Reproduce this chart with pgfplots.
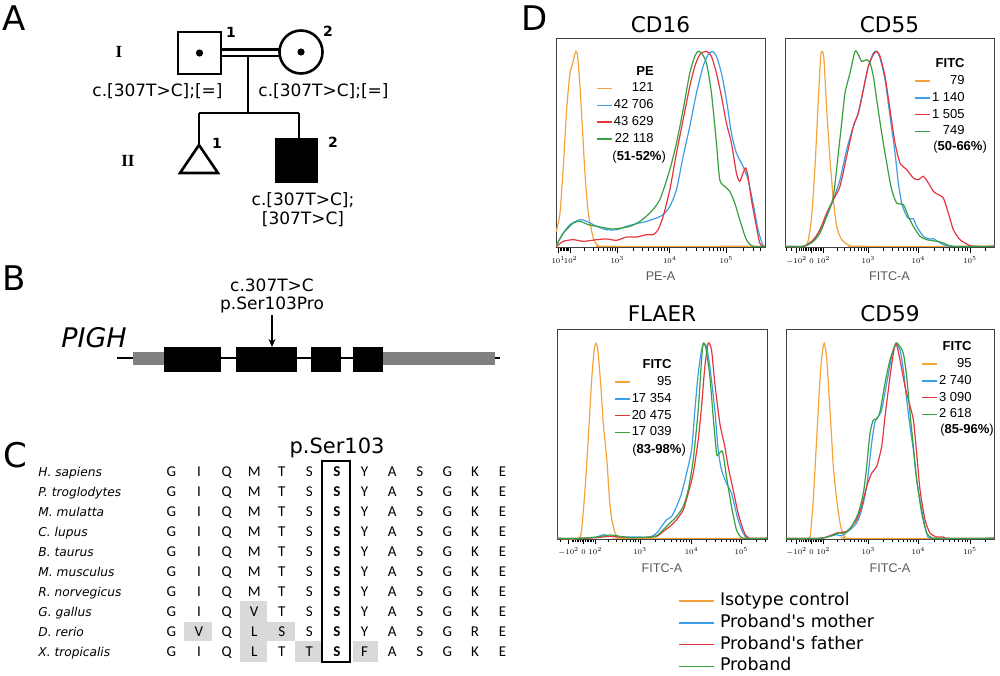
\documentclass[border=0pt]{standalone}
\usepackage{pgfplots}
\pgfplotsset{compat=1.18}
\usetikzlibrary{arrows.meta}
\usepackage{fontspec}
\setmainfont{DejaVu Sans}
\newfontfamily\dvs{DejaVu Sans}
\newfontfamily\arialf{Liberation Sans}
\newfontfamily\calf{Carlito}
\newfontfamily\serf{Liberation Serif}
\definecolor{corange}{HTML}{F5A23C}
\definecolor{cblue}{HTML}{3C9DE8}
\definecolor{cred}{HTML}{E5353F}
\definecolor{cgreen}{HTML}{38A03E}
\definecolor{hl}{HTML}{D9D9D9}
\definecolor{utr}{HTML}{808080}
\newcommand\ac[1]{\makebox[13.8pt]{#1}}
\tikzset{pct/.style={anchor=base west, font=\arialf\fontsize{6.5}{7}\selectfont, inner sep=0pt}}
\pgfplotsset{
 flow/.style={scale only axis, clip=true,
   axis line style={draw=black!75, line width=0.5pt},
   ytick=\empty, xtick pos=bottom, tick align=outside,
   major tick length=2.5pt, minor tick length=1.5pt,
   every tick/.style={black, line width=0.4pt},
   xticklabel style={font=\fontsize{6}{7}\selectfont, scale=0.6, anchor=base, yshift=-9pt},
   title style={font=\fontsize{10.8}{12}\selectfont, at={(0.5,1)}, anchor=base, yshift=-3pt},
   xlabel style={font=\arialf\fontsize{6.3}{7}\selectfont, text=black!65, at={(0.5,0)}, anchor=base, yshift=-16.5pt},
   legend style={draw=none, fill=none, font=\arialf\fontsize{6.5}{7}\selectfont, inner sep=0pt, row sep=1.4pt, anchor=north east, nodes={inner sep=0.5pt, text height=4.7pt, text depth=1.3pt}},
   legend cell align=right,
   legend image code/.code={\draw[#1, line width=0.7pt] (0pt,0pt) -- (7.5pt,0pt);},
   every axis plot/.append style={line width=0.6pt, no markers, smooth, tension=0.4},
 },
}
\begin{document}
\begin{tikzpicture}
\path[use as bounding box] (0pt,0pt) rectangle (500pt,337.5pt);
% ---------------- background axis for panels A, B, C ----------------
\begin{axis}[at={(0pt,0pt)}, anchor=south west, scale only axis, width=500pt, height=337.5pt,
  xmin=0, xmax=1000, ymin=0, ymax=675, y dir=reverse, hide axis, clip=false]
% Panel A
\node[font=\fontsize{17}{20}\selectfont, anchor=base] at (14,30) {A};
\draw[line width=1.3pt] (178,32) rectangle (221,74);
\fill (199.5,53) circle[radius=1.8pt];
\draw[line width=1.3pt] (301,52) circle[radius=10.75pt];
\fill (301,52) circle[radius=1.8pt];
\draw[line width=1.2pt] (221,49.5) -- (280,49.5) (221,56) -- (280,56);
\draw[line width=1.3pt] (248,56) -- (248,113) (199,113) -- (299,113) (199,113) -- (199,145) (299,113) -- (299,138);
\draw[line width=1.3pt, line join=miter] (199,145) -- (180,173) -- (218,173) -- cycle;
\fill (275,138) rectangle (318,183);
\node[font=\bfseries\fontsize{7}{8}\selectfont, anchor=base] at (231,37) {1};
\node[font=\bfseries\fontsize{7}{8}\selectfont, anchor=base] at (328,36) {2};
\node[font=\bfseries\fontsize{7}{8}\selectfont, anchor=base] at (217,148) {1};
\node[font=\bfseries\fontsize{7}{8}\selectfont, anchor=base] at (333,147) {2};
\node[font=\serf\bfseries\fontsize{8.5}{10}\selectfont, anchor=base] at (119,57) {I};
\node[font=\serf\bfseries\fontsize{8.5}{10}\selectfont, anchor=base] at (128,166) {II};
\node[font=\fontsize{8.5}{10}\selectfont, anchor=base] at (157.5,96) {c.[307T>C];[=]};
\node[font=\fontsize{8.5}{10}\selectfont, anchor=base west, inner sep=0pt] at (258,96) {c.[307T>C];[=]};
\node[font=\fontsize{8.5}{10}\selectfont, anchor=base] at (303,205) {c.[307T>C];};
\node[font=\fontsize{8.5}{10}\selectfont, anchor=base] at (303,224) {[307T>C]};
% Panel B
\node[font=\fontsize{17}{20}\selectfont, anchor=base] at (14,290) {B};
\node[font=\fontsize{8.5}{10}\selectfont, anchor=base] at (272,291) {c.307T>C};
\node[font=\fontsize{8.5}{10}\selectfont, anchor=base] at (272,309) {p.Ser103Pro};
\draw[line width=0.8pt, -{Stealth[length=4pt,width=3.5pt]}] (272,315) -- (272,347);
\node[font=\itshape\fontsize{13.5}{16}\selectfont, anchor=base] at (94,347) {PIGH};
\draw[line width=0.8pt] (117,358) -- (500,358);
\fill[utr] (133,352) rectangle (164,365);
\fill[utr] (383,352) rectangle (495,365);
\fill (164,347) rectangle (221,372);
\fill (236,347) rectangle (297,372);
\fill (311,347) rectangle (341,372);
\fill (353,347) rectangle (383,372);
% Panel C
\node[font=\fontsize{17}{20}\selectfont, anchor=base] at (15,467) {C};
\node[font=\fontsize{10.5}{12}\selectfont, anchor=base] at (337,453) {p.Ser103};
\fill[hl] (240,601) rectangle (267,622);
\fill[hl] (184,622) rectangle (212,641);
\fill[hl] (240,622) rectangle (295,641);
\fill[hl] (240,641) rectangle (267,662);
\fill[hl] (295,641) rectangle (322,662);
\fill[hl] (353,641) rectangle (378,662);
\draw[line width=1.3pt] (322,461) rectangle (350,662);
\node[anchor=base west, inner sep=0pt, font=\itshape\fontsize{6.1}{7}\selectfont] at (38,476) {H. sapiens};
\node[anchor=base west, inner sep=0pt, font=\itshape\fontsize{6.1}{7}\selectfont] at (38,496) {P. troglodytes};
\node[anchor=base west, inner sep=0pt, font=\itshape\fontsize{6.1}{7}\selectfont] at (38,516) {M. mulatta};
\node[anchor=base west, inner sep=0pt, font=\itshape\fontsize{6.1}{7}\selectfont] at (38,536) {C. lupus};
\node[anchor=base west, inner sep=0pt, font=\itshape\fontsize{6.1}{7}\selectfont] at (38,556) {B. taurus};
\node[anchor=base west, inner sep=0pt, font=\itshape\fontsize{6.1}{7}\selectfont] at (38,576) {M. musculus};
\node[anchor=base west, inner sep=0pt, font=\itshape\fontsize{6.1}{7}\selectfont] at (38,596) {R. norvegicus};
\node[anchor=base west, inner sep=0pt, font=\itshape\fontsize{6.1}{7}\selectfont] at (38,616) {G. gallus};
\node[anchor=base west, inner sep=0pt, font=\itshape\fontsize{6.1}{7}\selectfont] at (38,636) {D. rerio};
\node[anchor=base west, inner sep=0pt, font=\itshape\fontsize{6.1}{7}\selectfont] at (38,656) {X. tropicalis};
\node[anchor=base west, inner sep=0pt, font=\calf\fontsize{7.5}{9}\selectfont] at (157.2,476) {\ac G\ac I\ac Q\ac M\ac T\ac S\ac{\textbf{S}}\ac Y\ac A\ac S\ac G\ac K\ac E};
\node[anchor=base west, inner sep=0pt, font=\calf\fontsize{7.5}{9}\selectfont] at (157.2,496) {\ac G\ac I\ac Q\ac M\ac T\ac S\ac{\textbf{S}}\ac Y\ac A\ac S\ac G\ac K\ac E};
\node[anchor=base west, inner sep=0pt, font=\calf\fontsize{7.5}{9}\selectfont] at (157.2,516) {\ac G\ac I\ac Q\ac M\ac T\ac S\ac{\textbf{S}}\ac Y\ac A\ac S\ac G\ac K\ac E};
\node[anchor=base west, inner sep=0pt, font=\calf\fontsize{7.5}{9}\selectfont] at (157.2,536) {\ac G\ac I\ac Q\ac M\ac T\ac S\ac{\textbf{S}}\ac Y\ac A\ac S\ac G\ac K\ac E};
\node[anchor=base west, inner sep=0pt, font=\calf\fontsize{7.5}{9}\selectfont] at (157.2,556) {\ac G\ac I\ac Q\ac M\ac T\ac S\ac{\textbf{S}}\ac Y\ac A\ac S\ac G\ac K\ac E};
\node[anchor=base west, inner sep=0pt, font=\calf\fontsize{7.5}{9}\selectfont] at (157.2,576) {\ac G\ac I\ac Q\ac M\ac T\ac S\ac{\textbf{S}}\ac Y\ac A\ac S\ac G\ac K\ac E};
\node[anchor=base west, inner sep=0pt, font=\calf\fontsize{7.5}{9}\selectfont] at (157.2,596) {\ac G\ac I\ac Q\ac M\ac T\ac S\ac{\textbf{S}}\ac Y\ac A\ac S\ac G\ac K\ac E};
\node[anchor=base west, inner sep=0pt, font=\calf\fontsize{7.5}{9}\selectfont] at (157.2,616) {\ac G\ac I\ac Q\ac V\ac T\ac S\ac{\textbf{S}}\ac Y\ac A\ac S\ac G\ac K\ac E};
\node[anchor=base west, inner sep=0pt, font=\calf\fontsize{7.5}{9}\selectfont] at (157.2,636) {\ac G\ac V\ac Q\ac L\ac S\ac S\ac{\textbf{S}}\ac Y\ac A\ac S\ac G\ac R\ac E};
\node[anchor=base west, inner sep=0pt, font=\calf\fontsize{7.5}{9}\selectfont] at (157.2,656) {\ac G\ac I\ac Q\ac L\ac T\ac T\ac{\textbf{S}}\ac F\ac A\ac S\ac G\ac K\ac E};
% Panel D letter
\node[font=\fontsize{17}{20}\selectfont, anchor=base] at (535,30) {D};
\end{axis}
% ---------------- CD16 ----------------
\begin{axis}[flow, at={(278pt,213.5pt)}, anchor=south west, width=104.5pt, height=105pt,
  xmin=78, xmax=706, ymin=-5, ymax=625, title={CD16}, xlabel={PE-A},
  xtick={85,122,262,420,590}, xticklabels={$10^1$,$10^2$,$10^3$,$10^4$,$10^5$},
  minor xtick={90,95,100,104,108,112,116,164,189,206,220,231,240,248,256,310,337,357,372,385,395,405,413,471,501,522,539,552,564,573,582,641,671,692},
  legend style={at={(0.474,0.875)}}]
\addlegendimage{empty legend}\addlegendentry{\textbf{PE}}
\addplot[corange] coordinates {(78,45)(80,50)(90,100)(100,240)(110,410)(120,520)(127,545)(133,570)(138,585)(143,570)(150,480)(157,360)(165,220)(175,100)(190,25)(205,2)(230,0)(706,0)};
\addlegendentry{121}
\addplot[cblue] coordinates {(78,3)(80,5)(100,40)(120,65)(150,80)(170,75)(200,60)(230,50)(260,50)(290,60)(320,68)(350,75)(380,85)(400,95)(420,120)(440,170)(460,270)(480,360)(500,460)(520,540)(535,575)(548,585)(560,570)(575,520)(590,440)(605,340)(620,280)(640,240)(655,200)(670,130)(685,50)(700,2)(706,0)};
\addlegendentry{42 706}
\addplot[cred] coordinates {(78,0)(80,0)(100,15)(130,20)(160,15)(200,20)(230,22)(260,18)(290,28)(320,28)(350,35)(370,35)(385,50)(400,90)(420,170)(440,280)(460,380)(480,480)(495,540)(510,575)(530,585)(545,570)(560,520)(575,450)(590,370)(605,310)(620,220)(630,195)(640,220)(648,235)(655,210)(665,140)(680,60)(690,10)(700,0)(706,0)};
\addlegendentry{43 629}
\addplot[cgreen] coordinates {(78,3)(80,5)(100,40)(130,70)(150,75)(175,65)(200,60)(250,52)(300,60)(330,75)(360,100)(390,140)(420,230)(440,310)(460,410)(480,520)(495,570)(505,585)(515,580)(530,550)(545,460)(560,310)(570,200)(585,180)(600,165)(615,130)(630,80)(650,20)(670,0)(706,0)};
\addlegendentry{22 118}
\node[pct] at (axis description cs:0.268,0.415) {(\textbf{51-52\%})};
\end{axis}
% ---------------- CD55 ----------------
\begin{axis}[flow, at={(392.5pt,213.5pt)}, anchor=south west, width=104.5pt, height=105pt,
  xmin=45, xmax=672, ymin=-5, ymax=625, title={CD55}, xlabel={FITC-A},
  xtick={80,125,160,295,445,600}, xticklabels={$-10^2$,$0$,$10^2$,$10^3$,$10^4$,$10^5$},
  minor xtick={50,65,88,95,100,105,110,115,120,130,135,140,145,150,155,201,224,241,254,265,274,282,289,340,367,385,400,412,422,430,438,492,519,538,553,566,576,585,593,647},
  legend style={at={(0.866,0.91)}}]
\addlegendimage{empty legend}\addlegendentry{\textbf{FITC}}
\addplot[corange] coordinates {(45,0)(105,0)(115,20)(125,90)(135,240)(145,440)(152,570)(157,585)(162,560)(170,410)(180,260)(190,140)(200,60)(215,20)(240,2)(270,0)(672,0)};
\addlegendentry{79}
\addplot[cblue] coordinates {(45,0)(100,0)(130,15)(150,50)(170,90)(190,140)(210,200)(230,290)(250,360)(265,400)(280,470)(295,540)(310,580)(320,585)(330,565)(345,500)(360,390)(375,280)(385,190)(395,130)(410,90)(420,82)(430,83)(440,60)(460,30)(480,22)(490,23)(520,5)(545,0)(672,0)};
\addlegendentry{1 140}
\addplot[cred] coordinates {(45,0)(100,0)(130,20)(150,50)(170,100)(190,140)(210,180)(230,270)(250,360)(265,400)(280,470)(295,540)(310,575)(320,585)(330,570)(345,510)(360,410)(375,310)(390,250)(410,230)(430,205)(445,200)(460,210)(475,190)(490,165)(505,155)(520,145)(535,100)(550,50)(570,20)(600,2)(620,0)(672,0)};
\addlegendentry{1 505}
\addplot[cgreen] coordinates {(45,0)(100,0)(130,15)(150,40)(170,90)(190,150)(205,280)(215,370)(225,460)(240,520)(255,585)(265,575)(275,555)(290,560)(300,550)(310,510)(320,440)(335,340)(350,250)(365,170)(380,130)(400,125)(415,90)(430,60)(450,30)(470,20)(500,15)(520,10)(550,0)(672,0)};
\addlegendentry{749}
\node[pct] at (axis description cs:0.708,0.465) {(\textbf{50-66\%})};
\end{axis}
% ---------------- FLAER ----------------
\begin{axis}[flow, at={(278.5pt,68pt)}, anchor=south west, width=105pt, height=104.5pt,
  xmin=80, xmax=712, ymin=-2, ymax=626, title={FLAER}, xlabel={FITC-A},
  title style={yshift=1pt},
  xtick={115,160,195,330,485,635}, xticklabels={$-10^2$,$0$,$10^2$,$10^3$,$10^4$,$10^5$},
  minor xtick={90,125,130,135,140,145,150,155,165,170,175,180,185,190,236,259,276,289,300,309,317,324,377,404,423,438,451,461,470,478,530,557,575,590,602,612,620,628,680,707},
  legend style={at={(0.552,0.866)}}]
\addlegendimage{empty legend}\addlegendentry{\textbf{FITC}}
\addplot[corange] coordinates {(80,0)(145,0)(155,36)(165,156)(175,316)(185,486)(192,566)(197,586)(203,566)(212,456)(220,336)(230,236)(238,116)(245,56)(255,16)(265,2)(290,0)(712,0)};
\addlegendentry{95}
\addplot[cblue] coordinates {(80,0)(150,0)(180,2)(200,4)(220,11)(240,6)(280,4)(320,4)(360,4)(380,16)(395,36)(410,56)(425,66)(440,96)(455,136)(470,196)(485,266)(495,386)(505,496)(515,566)(522,584)(530,576)(540,516)(555,386)(565,266)(575,206)(590,166)(605,136)(615,96)(625,56)(640,16)(655,0)(712,0)};
\addlegendentry{17 354}
\addplot[cred] coordinates {(80,0)(150,0)(200,2)(240,6)(300,2)(350,3)(380,6)(400,21)(420,36)(440,56)(460,86)(475,136)(490,196)(505,296)(515,396)(525,516)(535,586)(545,566)(555,466)(570,346)(585,276)(595,216)(610,146)(625,76)(640,26)(650,6)(660,0)(712,0)};
\addlegendentry{20 475}
\addplot[cgreen] coordinates {(80,0)(150,0)(200,4)(240,10)(270,6)(300,2)(350,3)(380,8)(400,26)(420,46)(440,66)(460,96)(475,146)(490,236)(505,386)(515,536)(520,586)(528,571)(540,486)(550,366)(560,256)(565,251)(578,261)(590,186)(605,96)(620,26)(635,2)(650,0)(712,0)};
\addlegendentry{17 039}
\node[pct] at (axis description cs:0.357,0.41) {(\textbf{83-98\%})};
\end{axis}
% ---------------- CD59 ----------------
\begin{axis}[flow, at={(393pt,68pt)}, anchor=south west, width=104pt, height=104.5pt,
  xmin=48, xmax=672, ymin=-2, ymax=626, title={CD59}, xlabel={FITC-A},
  title style={yshift=1pt},
  xtick={80,125,160,295,445,600}, xticklabels={$-10^2$,$0$,$10^2$,$10^3$,$10^4$,$10^5$},
  minor xtick={50,65,88,95,100,105,110,115,120,130,135,140,145,150,155,201,224,241,254,265,274,282,289,340,367,385,400,412,422,430,438,492,519,538,553,566,576,585,593,647},
  legend style={at={(0.899,0.953)}}]
\addlegendimage{empty legend}\addlegendentry{\textbf{FITC}}
\addplot[corange] coordinates {(48,0)(115,0)(122,20)(130,120)(140,300)(150,480)(157,560)(163,586)(170,540)(178,416)(185,300)(190,216)(200,116)(212,36)(225,6)(240,0)(672,0)};
\addlegendentry{95}
\addplot[cblue] coordinates {(48,0)(150,0)(180,6)(200,11)(215,8)(240,26)(260,46)(275,86)(290,156)(305,286)(315,351)(325,366)(335,386)(350,466)(365,546)(378,584)(390,566)(400,506)(410,416)(420,336)(430,266)(440,176)(455,86)(470,16)(490,0)(672,0)};
\addlegendentry{2 740}
\addplot[cred] coordinates {(48,0)(150,0)(180,8)(200,16)(230,21)(245,36)(260,56)(275,96)(290,156)(305,196)(320,216)(335,276)(345,366)(360,486)(370,556)(378,586)(390,536)(405,456)(415,416)(430,356)(440,256)(450,146)(465,56)(480,16)(500,4)(520,4)(535,0)(672,0)};
\addlegendentry{3 090}
\addplot[cgreen] coordinates {(48,0)(150,0)(185,8)(205,16)(225,16)(245,36)(265,76)(280,136)(290,216)(300,316)(310,356)(320,358)(330,381)(345,466)(360,536)(378,586)(390,576)(400,556)(410,486)(420,376)(430,276)(440,176)(455,76)(470,16)(485,2)(500,0)(672,0)};
\addlegendentry{2 618}
\node[pct] at (axis description cs:0.740,0.505) {(\textbf{85-96\%})};
\end{axis}
% ---------------- shared legend ----------------
\begin{axis}[at={(339pt,42pt)}, anchor=north west, scale only axis, width=20pt, height=5pt,
  hide axis, xmin=0, xmax=1, ymin=0, ymax=1,
  legend style={draw=none, fill=none, at={(0,1)}, anchor=north west, font=\dvs\fontsize{8.7}{10}\selectfont,
    inner sep=0pt, row sep=1.4pt, nodes={inner sep=0.5pt, text height=6.5pt, text depth=2pt},
    /tikz/every odd column/.append style={column sep=2pt}},
  legend cell align=left,
  legend image code/.code={\draw[#1, line width=0.8pt] (0pt,0pt) -- (17.5pt,0pt);}]
\addlegendimage{corange}\addlegendentry{Isotype control}
\addlegendimage{cblue}\addlegendentry{Proband's mother}
\addlegendimage{cred}\addlegendentry{Proband's father}
\addlegendimage{cgreen}\addlegendentry{Proband}
\end{axis}
\end{tikzpicture}
\end{document}
